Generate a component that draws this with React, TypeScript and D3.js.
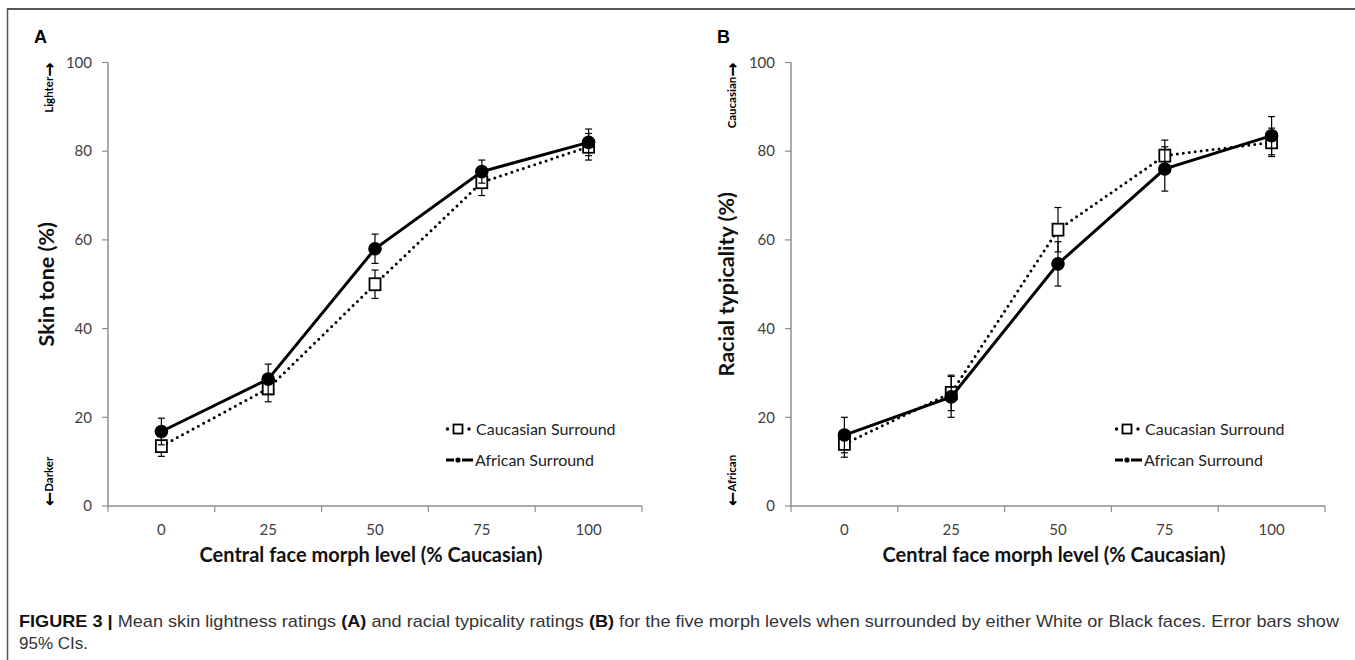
import React from 'react';
import * as d3 from 'd3';

// values
const morphLevels = ['0', '25', '50', '75', '100'];
const yTicks = [0, 20, 40, 60, 80, 100];

const skinCaucasian = [13.5, 26.5, 50, 73, 81];
const skinCaucasianCI = [2.3, 3, 3.2, 3, 3];
const skinAfrican = [16.8, 28.6, 58, 75.4, 82];
const skinAfricanCI = [3, 3.4, 3.3, 2.6, 3];

const typCaucasian = [14, 25.5, 62.3, 79, 82];
const typCaucasianCI = [3, 4, 5, 3.5, 3.2];
const typAfrican = [16, 24.6, 54.6, 76, 83.5];
const typAfricanCI = [4, 4.6, 5, 5, 4.3];

const legendLabels = ['Caucasian Surround', 'African Surround'];

const FONT = 'Lato, "Open Sans", sans-serif';
const ARROW_FONT = '"DejaVu Sans", sans-serif';
const CAPTION_FONT = '"Liberation Sans", Arial, sans-serif';

type PanelProps = {
  letter: string;
  axisX: number;
  yTitle: string;
  yTitleX: number;
  topLabel: string;
  bottomLabel: string;
  smallX: number;
  legendX: number;
  caucasian: number[];
  caucasianCI: number[];
  african: number[];
  africanCI: number[];
};

const Panel = ({ letter, axisX, yTitle, yTitleX, topLabel, bottomLabel, smallX, legendX, caucasian, caucasianCI, african, africanCI }: PanelProps) => {
  const x = d3.scaleBand().domain(morphLevels).range([axisX, axisX + 534]);
  const y = d3.scaleLinear().domain([0, 100]).range([506, 62.5]);
  const cx = (d: string) => (x(d) as number) + x.bandwidth() / 2;

  const line = d3
    .line<number>()
    .x((d, i) => cx(morphLevels[i]))
    .y((d) => y(d));

  const errorBars = (vals: number[], ci: number[]) =>
    vals.map((v, i) => {
      const px = cx(morphLevels[i]);
      return (
        <g key={i} stroke="#000" strokeWidth={1.2}>
          <line x1={px} x2={px} y1={y(v + ci[i])} y2={y(v - ci[i])} />
          <line x1={px - 3.5} x2={px + 3.5} y1={y(v + ci[i])} y2={y(v + ci[i])} />
          <line x1={px - 3.5} x2={px + 3.5} y1={y(v - ci[i])} y2={y(v - ci[i])} />
        </g>
      );
    });

  const midY = (y(0) + y(100)) / 2;
  const x1 = axisX + 534;
  const bounds = [...morphLevels.map((d) => x(d) as number), x1];

  return (
    <g>
      <text x={axisX - 74} y={43} fontFamily={CAPTION_FONT} fontWeight="bold" fontSize={18}>
        {letter}
      </text>

      {/* y axis */}
      <line x1={axisX} x2={axisX} y1={y(100)} y2={y(0)} stroke="#8c8c8c" strokeWidth={1.5} />
      {yTicks.map((t) => (
        <g key={t}>
          <line x1={axisX - 6} x2={axisX} y1={y(t)} y2={y(t)} stroke="#8c8c8c" strokeWidth={1.2} />
          <text x={axisX - 16} y={y(t)} dy="0.35em" textAnchor="end" fontFamily={FONT} fontSize={15} fill="#404040">
            {t}
          </text>
        </g>
      ))}

      {/* x axis */}
      <line x1={axisX} x2={x1} y1={y(0)} y2={y(0)} stroke="#8c8c8c" strokeWidth={1.5} />
      {bounds.map((b, i) => (
        <line key={i} x1={b} x2={b} y1={y(0)} y2={y(0) + 6} stroke="#8c8c8c" strokeWidth={1.2} />
      ))}
      {morphLevels.map((d) => (
        <text key={d} x={cx(d)} y={535} textAnchor="middle" fontFamily={FONT} fontSize={15} fill="#404040">
          {d}
        </text>
      ))}
      <text x={(axisX + x1) / 2 - 4} y={562} textAnchor="middle" fontFamily={FONT} fontWeight="bold" fontSize={20} fill="#111">
        Central face morph level (% Caucasian)
      </text>

      {/* y titles */}
      <text transform={`translate(${yTitleX},${midY}) rotate(-90)`} textAnchor="middle" fontFamily={FONT} fontWeight="bold" fontSize={21.5} fill="#111">
        {yTitle}
      </text>
      <text transform={`translate(${smallX},${y(100)}) rotate(-90)`} textAnchor="end" fontFamily={FONT} fontWeight="bold" fontSize={11.5} fill="#000">
        {topLabel}
        <tspan fontFamily={ARROW_FONT} fontWeight="bold" fontSize={17} dy={1.5}>→</tspan>
      </text>
      <text transform={`translate(${smallX},${y(0)}) rotate(-90)`} textAnchor="start" fontFamily={FONT} fontWeight="bold" fontSize={11.5} fill="#000">
        <tspan fontFamily={ARROW_FONT} fontWeight="bold" fontSize={17} dy={1.5}>←</tspan>
        <tspan dy={-1.5}>{bottomLabel}</tspan>
      </text>

      {/* Caucasian surround: dotted + open squares */}
      <path d={line(caucasian) as string} fill="none" stroke="#000" strokeWidth={3} strokeDasharray="0 6" strokeLinecap="round" />
      {errorBars(caucasian, caucasianCI)}
      {caucasian.map((v, i) => (
        <rect key={i} x={cx(morphLevels[i]) - 5.5} y={y(v) - 6} width={11} height={12} fill="#fff" stroke="#000" strokeWidth={1.8} />
      ))}

      {/* African surround: solid + filled circles */}
      <path d={line(african) as string} fill="none" stroke="#000" strokeWidth={3} />
      {errorBars(african, africanCI)}
      {african.map((v, i) => (
        <circle key={i} cx={cx(morphLevels[i])} cy={y(v)} r={6.8} fill="#000" />
      ))}

      {/* legend */}
      <g>
        <circle cx={legendX + 1.5} cy={429} r={1.7} fill="#000" />
        <rect x={legendX + 7.5} y={424.5} width={9} height={9} fill="#fff" stroke="#000" strokeWidth={1.8} />
        <circle cx={legendX + 23} cy={429} r={1.7} fill="#000" />
        <text x={legendX + 30} y={429} dy="0.35em" fontFamily={FONT} fontSize={16} fill="#222">
          {legendLabels[0]}
        </text>
        <line x1={legendX} x2={legendX + 8} y1={460} y2={460} stroke="#000" strokeWidth={3} />
        <circle cx={legendX + 12} cy={460} r={2.6} fill="#000" />
        <line x1={legendX + 16} x2={legendX + 27} y1={460} y2={460} stroke="#000" strokeWidth={3} />
        <text x={legendX + 29} y={460} dy="0.35em" fontFamily={FONT} fontSize={16} fill="#222">
          {legendLabels[1]}
        </text>
      </g>
    </g>
  );
};

const App = () => {
  return (
    <svg width={1355} height={660} style={{ position: 'absolute', left: 0, top: 0, background: '#fff' }}>
      <rect x={0} y={0} width={1355} height={660} fill="#fff" />
      {/* frame */}
      <line x1={7} x2={1355} y1={9} y2={9} stroke="#555" strokeWidth={2} />
      <line x1={7.5} x2={7.5} y1={8} y2={660} stroke="#555" strokeWidth={1.5} />

      <Panel
        letter="A"
        axisX={108}
        yTitle="Skin tone (%)"
        yTitleX={54}
        topLabel="Lighter"
        bottomLabel="Darker"
        smallX={53}
        legendX={446}
        caucasian={skinCaucasian}
        caucasianCI={skinCaucasianCI}
        african={skinAfrican}
        africanCI={skinAfricanCI}
      />
      <Panel
        letter="B"
        axisX={791}
        yTitle="Racial typicality (%)"
        yTitleX={734}
        topLabel="Caucasian"
        bottomLabel="African"
        smallX={736}
        legendX={1115}
        caucasian={typCaucasian}
        caucasianCI={typCaucasianCI}
        african={typAfrican}
        africanCI={typAfricanCI}
      />

      {/* caption */}
      <text x={19} y={627} fontFamily={CAPTION_FONT} fontSize={17} fill="#333" textLength={1320} lengthAdjust="spacingAndGlyphs">
        <tspan fontWeight="bold" fill="#111">FIGURE 3 |</tspan>
        <tspan> Mean skin lightness ratings </tspan>
        <tspan fontWeight="bold" fill="#111">(A)</tspan>
        <tspan> and racial typicality ratings </tspan>
        <tspan fontWeight="bold" fill="#111">(B)</tspan>
        <tspan> for the five morph levels when surrounded by either White or Black faces. Error bars show</tspan>
      </text>
      <text x={19} y={649} fontFamily={CAPTION_FONT} fontSize={17} fill="#333">
        95% CIs.
      </text>
    </svg>
  );
};

export default App;
